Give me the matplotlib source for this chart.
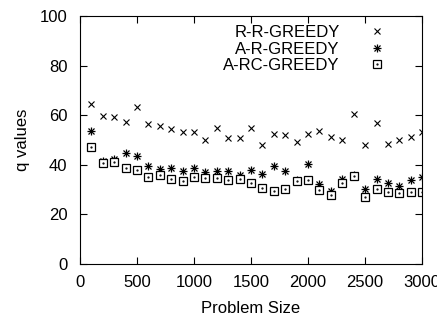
import matplotlib
matplotlib.use("Agg")
import matplotlib.pyplot as plt
from matplotlib.legend_handler import HandlerTuple

plt.rcParams['font.family'] = ['Liberation Sans', 'DejaVu Sans']

# problem sizes
sizes = [100, 200, 300, 400, 500, 600, 700, 800, 900, 1000,
         1100, 1200, 1300, 1400, 1500, 1600, 1700, 1800, 1900, 2000,
         2100, 2200, 2300, 2400, 2500, 2600, 2700, 2800, 2900, 3000]

# q values per algorithm
rr_greedy = [64.7, 59.6, 59.4, 57.2, 63.5, 56.3, 55.6, 54.4, 53.4, 53.2,
             49.9, 54.7, 50.8, 50.7, 55.0, 48.1, 52.3, 52.1, 49.1, 52.5,
             53.5, 51.3, 50.1, 60.5, 48.1, 56.8, 48.5, 50.0, 51.1, 53.1]
ar_greedy = [53.5, 41.6, 42.2, 44.9, 43.4, 39.7, 38.3, 38.9, 37.5, 38.9,
             37.1, 37.7, 37.7, 36.1, 37.9, 36.3, 39.7, 37.5, 33.8, 40.5,
             32.4, 29.6, 34.3, 35.9, 30.3, 34.2, 32.7, 31.6, 33.9, 35.1]
arc_greedy = [47.3, 40.8, 41.2, 38.9, 38.1, 35.3, 36.1, 34.3, 33.6, 35.3,
              34.6, 34.7, 33.8, 34.3, 32.6, 30.6, 29.5, 30.2, 33.6, 33.8,
              29.8, 28.0, 32.6, 35.7, 27.2, 30.2, 29.0, 28.8, 29.2, 29.0]

labels = ['R-R-GREEDY', 'A-R-GREEDY', 'A-RC-GREEDY']
fs = 12

fig = plt.figure(figsize=(4.37, 3.22), dpi=100)
ax = fig.add_axes([0.183, 0.180, 0.783, 0.770])

h1, = ax.plot(sizes, rr_greedy, linestyle='none', marker='x', ms=4.3,
              mew=0.8, color='black')
# asterisk = plus + cross
h2a, = ax.plot(sizes, ar_greedy, linestyle='none', marker='+', ms=5.2,
               mew=0.9, color='black')
h2b, = ax.plot(sizes, ar_greedy, linestyle='none', marker='x', ms=4.0,
               mew=0.9, color='black')
# square with a dot in the middle
h3a, = ax.plot(sizes, arc_greedy, linestyle='none', marker='s', ms=5.2,
               mew=0.9, mfc='white', mec='black')
h3b, = ax.plot(sizes, arc_greedy, linestyle='none', marker='.', ms=1.2,
               color='black')

ax.set_xlim(0, 3000)
ax.set_ylim(0, 100)
ax.set_xticks(range(0, 3001, 500))
ax.set_yticks(range(0, 101, 20))
ax.tick_params(direction='in', top=True, right=True, length=5,
               labelsize=fs)
ax.tick_params(axis='x', pad=8)
ax.tick_params(axis='y', pad=9)
ax.set_xlabel('Problem Size', fontsize=fs, labelpad=8)
ax.set_ylabel('q values', fontsize=fs, labelpad=7)

ax.legend([h1, (h2a, h2b), (h3a, h3b)], labels,
          handler_map={tuple: HandlerTuple(ndivide=1, pad=0)},
          markerfirst=False, frameon=False, fontsize=fs,
          loc='upper right', bbox_to_anchor=(0.935, 1.025),
          handlelength=1.0, handletextpad=1.7, labelspacing=0.1)

fig.savefig('out.png', dpi=100)
